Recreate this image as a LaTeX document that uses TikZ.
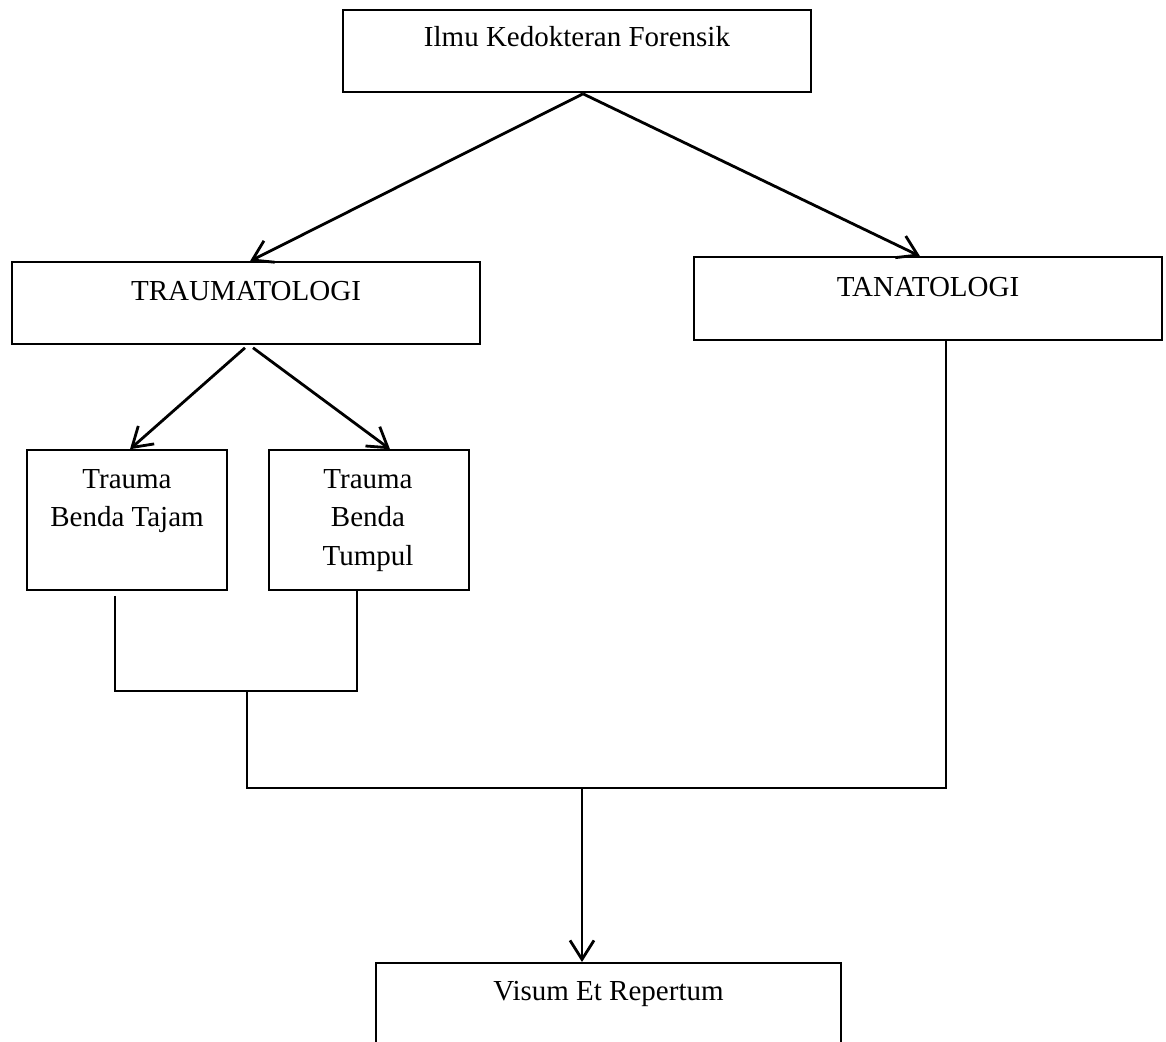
\documentclass[tikz,border=0pt]{standalone}
\usepackage{fontspec}
\setmainfont{Liberation Serif}
\usetikzlibrary{arrows.meta,calc}
\begin{document}
\begin{tikzpicture}[x=1pt,y=-1pt,
  box/.style={draw,line width=1.6pt,minimum width=#1,inner sep=0pt},
  lbl/.style={font=\fontsize{29}{38.5}\selectfont,align=center,anchor=base,inner sep=0pt},
  conn/.style={line width=2.8pt},
  arr/.style={conn,-{Straight Barb[length=19pt,width=24pt,line width=2.8pt]}}]
\useasboundingbox (0,0) rectangle (1166,1041);
% boxes
\node[box=468pt,minimum height=82pt] (top) at (577,51) {};
\node[box=468pt,minimum height=82pt] (trau) at (246,303) {};
\node[box=468pt,minimum height=83pt] (tana) at (928,298.5) {};
\node[box=200pt,minimum height=140pt] (tajam) at (127,520) {};
\node[box=200pt,minimum height=140pt] (tumpul) at (369,520) {};
\node[box=465pt,minimum height=120pt,anchor=north] (visum) at (608.5,962) {};
% labels (base = baseline of the last line)
\node[lbl] (ltop) at (577,47) {Ilmu Kedokteran Forensik};
\node[lbl] (ltrau) at (246,300) {TRAUMATOLOGI};
\node[lbl] (ltana) at (928,296) {TANATOLOGI};
\node[lbl] (ltajam) at (127,526.5) {Trauma\\Benda Tajam};
\node[lbl] (ltumpul) at (368,565) {Trauma\\Benda\\Tumpul};
\node[lbl] (lvisum) at (608.5,1000) {Visum Et Repertum};
% coordinates
\coordinate (ts) at ($(top.south)+(6,1)$);
\coordinate (j1) at (115,691);
\coordinate (j2) at (357,691);
\coordinate (m1) at (247,691);
\coordinate (m2) at (247,788);
\coordinate (m3) at (946,788);
\coordinate (m4) at (582,788);
% connectors
\draw[arr] (ts) -- ($(trau.north)+(4,0)$);
\draw[arr] (ts) -- ($(tana.north)+(-8,0)$);
\draw[arr] ($(trau.south)+(-1,3)$) -- ($(tajam.north)+(3,0)$);
\draw[arr] ($(trau.south)+(7,3)$) -- ($(tumpul.north)+(21,0)$);
\draw[conn] (tajam.south -| j1) ++(0,5) -- (j1) -- (j2) -- (tumpul.south -| j2);
\draw[conn] (m1) -- (m2) -- (m3) -- (tana.south -| m3);
\draw[arr] (m4) -- (visum.north -| m4);
\end{tikzpicture}
\end{document}
